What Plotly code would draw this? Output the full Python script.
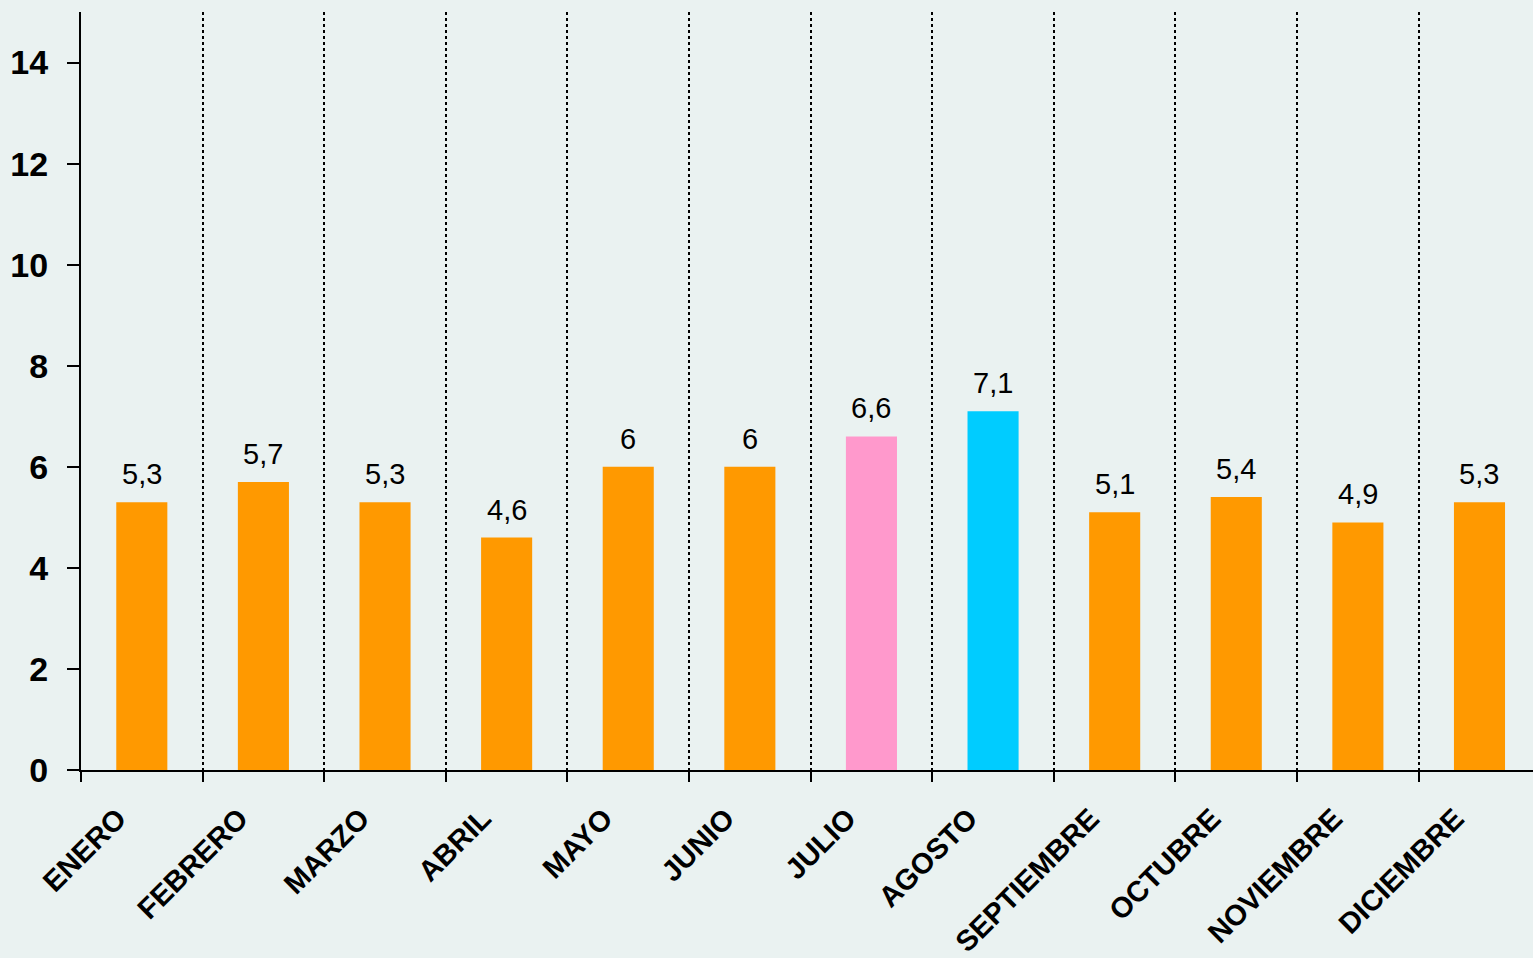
import plotly.graph_objects as go

months = ["ENERO", "FEBRERO", "MARZO", "ABRIL", "MAYO", "JUNIO", "JULIO",
          "AGOSTO", "SEPTIEMBRE", "OCTUBRE", "NOVIEMBRE", "DICIEMBRE"]
values = [5.3, 5.7, 5.3, 4.6, 6.0, 6.0, 6.6, 7.1, 5.1, 5.4, 4.9, 5.3]
colors = ["#FF9900"] * 6 + ["#FF99CC", "#00CCFF"] + ["#FF9900"] * 4
labels = [("%g" % v).replace(".", ",") for v in values]

fig = go.Figure(go.Bar(
    x=months, y=values, marker=dict(color=colors, line=dict(width=0)),
    width=0.42, cliponaxis=False,
))

for m, v, t in zip(months, values, labels):
    fig.add_annotation(
        x=m, y=v, text=t, showarrow=False, yanchor="bottom", yshift=10,
        font=dict(family="Liberation Sans, Arial", size=29, color="black"),
    )

fig.update_layout(
    width=1533, height=958,
    margin=dict(l=81, r=0, t=12, b=185),
    paper_bgcolor="#EAF2F1", plot_bgcolor="#EAF2F1",
    showlegend=False,
    font=dict(family="Liberation Sans, Arial", color="black"),
)
fig.update_xaxes(
    type="category", range=[-0.5, 11.44],
    tickson="boundaries", ticks="outside", ticklen=10, tickwidth=2, tickcolor="black",
    showgrid=True, gridcolor="black", gridwidth=2, griddash="dot",
    showline=True, linecolor="black", linewidth=2,
    tickangle=-45, ticklabelshift=-24, ticklabelstandoff=18,
    tickfont=dict(family="Liberation Sans, Arial", size=29, color="black", weight="bold"),
)
fig.update_yaxes(
    range=[0, 15], tickvals=[0, 2, 4, 6, 8, 10, 12, 14],
    ticks="outside", ticklen=12, tickwidth=2, tickcolor="black",
    showgrid=False, zeroline=False,
    showline=True, linecolor="black", linewidth=2,
    ticklabelstandoff=12,
    tickfont=dict(family="Liberation Sans, Arial", size=34, color="black", weight="bold"),
)

fig.write_html(
    "out.html",
    config={"displayModeBar": False},
    post_script="document.body.style.margin='0';document.body.style.background='#EAF2F1';",
)
